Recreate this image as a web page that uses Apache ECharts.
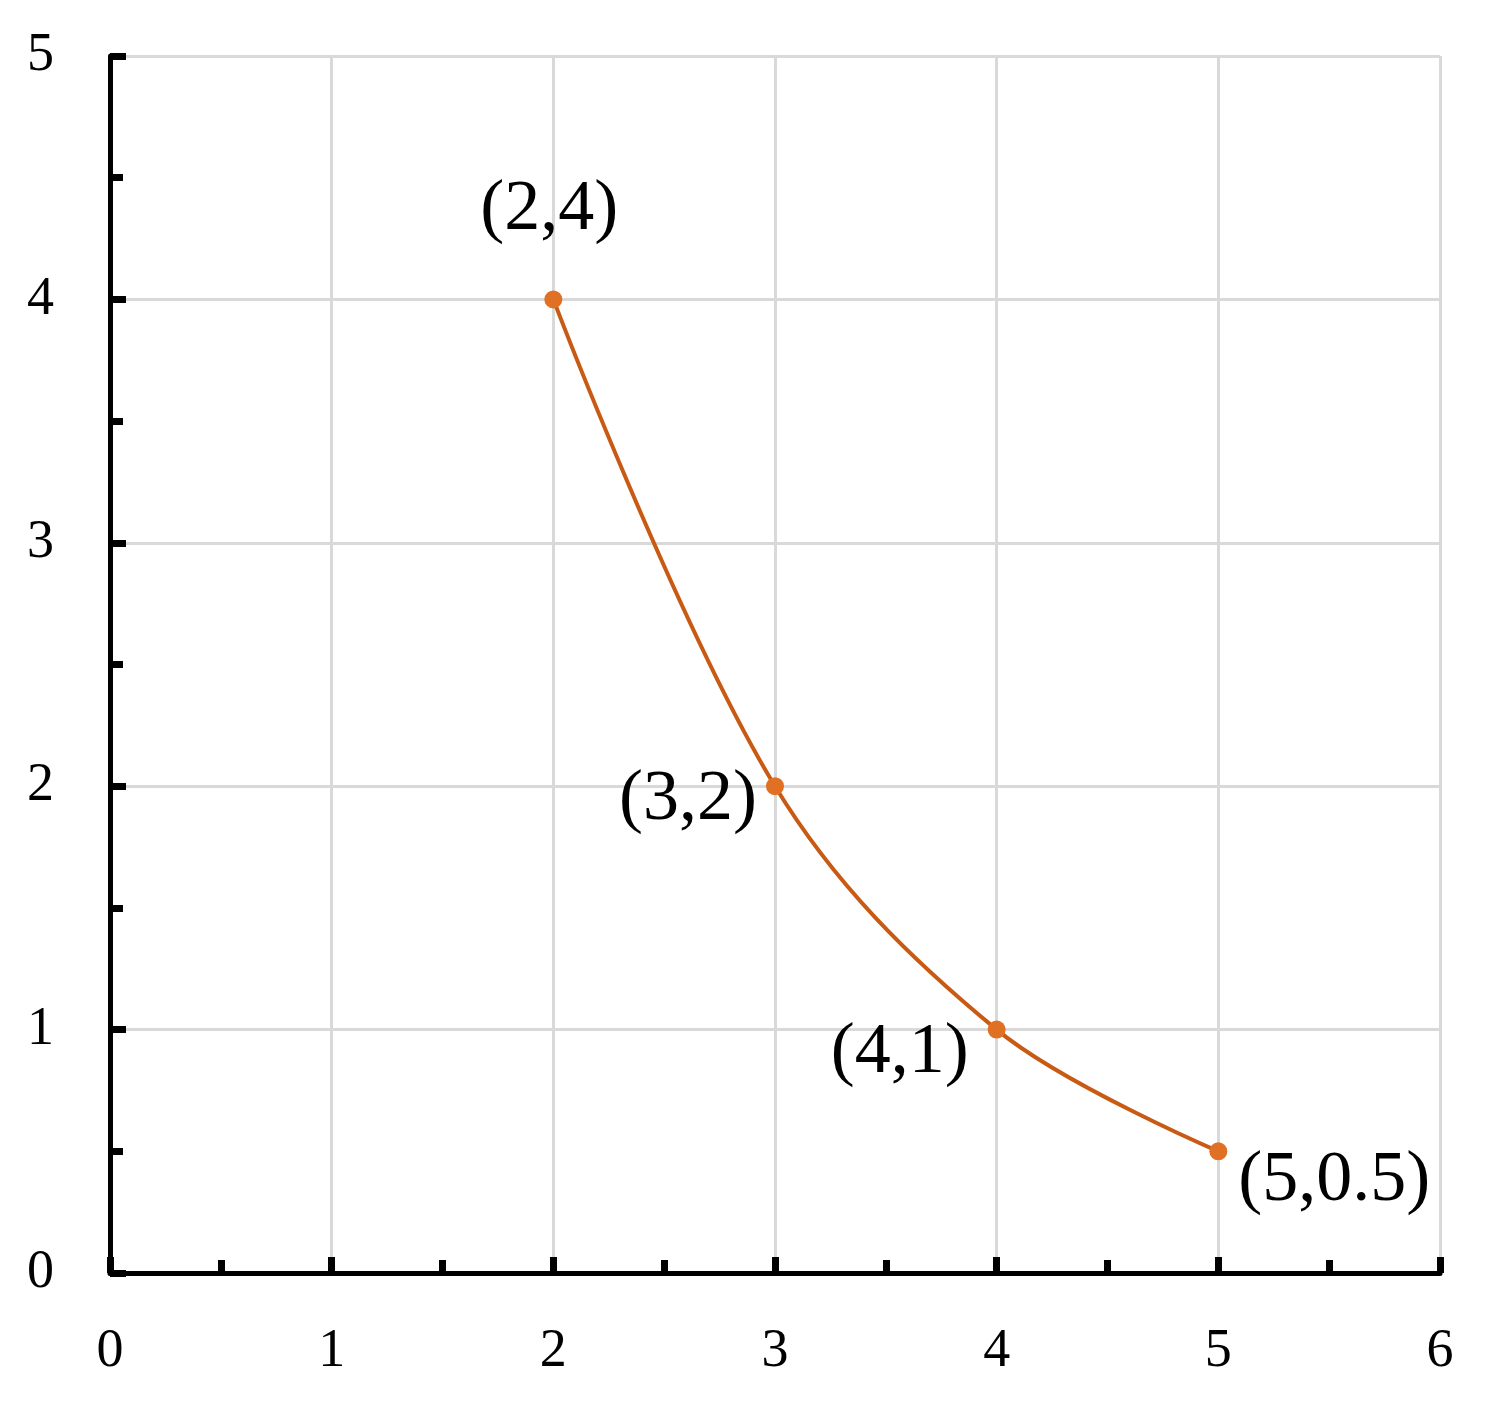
<!DOCTYPE html>
<html>
<head>
<meta charset="utf-8">
<script src="https://cdn.jsdelivr.net/npm/echarts@6/dist/echarts.min.js"></script>
<style>
  html, body { margin: 0; padding: 0; background: #fff; }
  #chart { width: 1501px; height: 1409px; }
</style>
</head>
<body>
<div id="chart"></div>
<script>
const xValues = [2, 3, 4, 5]
const yValues = [4, 2, 1, 0.5]
const pointLabels = ['(2,4)', '(3,2)', '(4,1)', '(5,0.5)']

// where each point's label sits relative to its marker
const labelPlacement = [
  { position: 'top', distance: 44, offset: [-4, 0] },
  { position: 'left', distance: 9, offset: [0, 14] },
  { position: 'left', distance: 19, offset: [0, 23] },
  { position: 'right', distance: 11, offset: [0, 30] },
]

const serif = '"Liberation Serif", "DejaVu Serif", serif'

const axisCommon = {
  type: 'value',
  interval: 1,
  axisLine: { show: true, onZero: false, lineStyle: { color: '#000', width: 5 } },
  axisTick: { show: true, inside: true, length: 16, lineStyle: { color: '#000', width: 7 } },
  minorTick: { show: true, splitNumber: 2, length: 13, lineStyle: { color: '#000', width: 7 } },
  splitLine: { show: true, lineStyle: { color: '#d9d9d9', width: 3 } },
  axisLabel: { fontFamily: serif, fontSize: 54, color: '#000' },
}

echarts.init(document.getElementById('chart')).setOption({
  animation: false,
  backgroundColor: '#fff',
  grid: {
    left: 110,
    right: 61,
    top: 56,
    bottom: 136,
  },
  xAxis: Object.assign({}, axisCommon, {
    min: 0,
    max: 6,
    axisLabel: Object.assign({}, axisCommon.axisLabel, { margin: 52 }),
  }),
  yAxis: Object.assign({}, axisCommon, {
    min: 0,
    max: 5,
    axisLabel: Object.assign({}, axisCommon.axisLabel, { margin: 56 }),
  }),
  series: [
    {
      type: 'line',
      smooth: 0.35,
      symbol: 'circle',
      symbolSize: 18,
      itemStyle: { color: '#e07024' },
      lineStyle: { color: '#c85a14', width: 4 },
      data: xValues.map((x, i) => ({
        value: [x, yValues[i]],
        label: Object.assign({
          show: true,
          formatter: pointLabels[i],
          fontFamily: serif,
          fontSize: 72,
          color: '#000',
        }, labelPlacement[i]),
      })),
    },
  ],
})
</script>
</body>
</html>
